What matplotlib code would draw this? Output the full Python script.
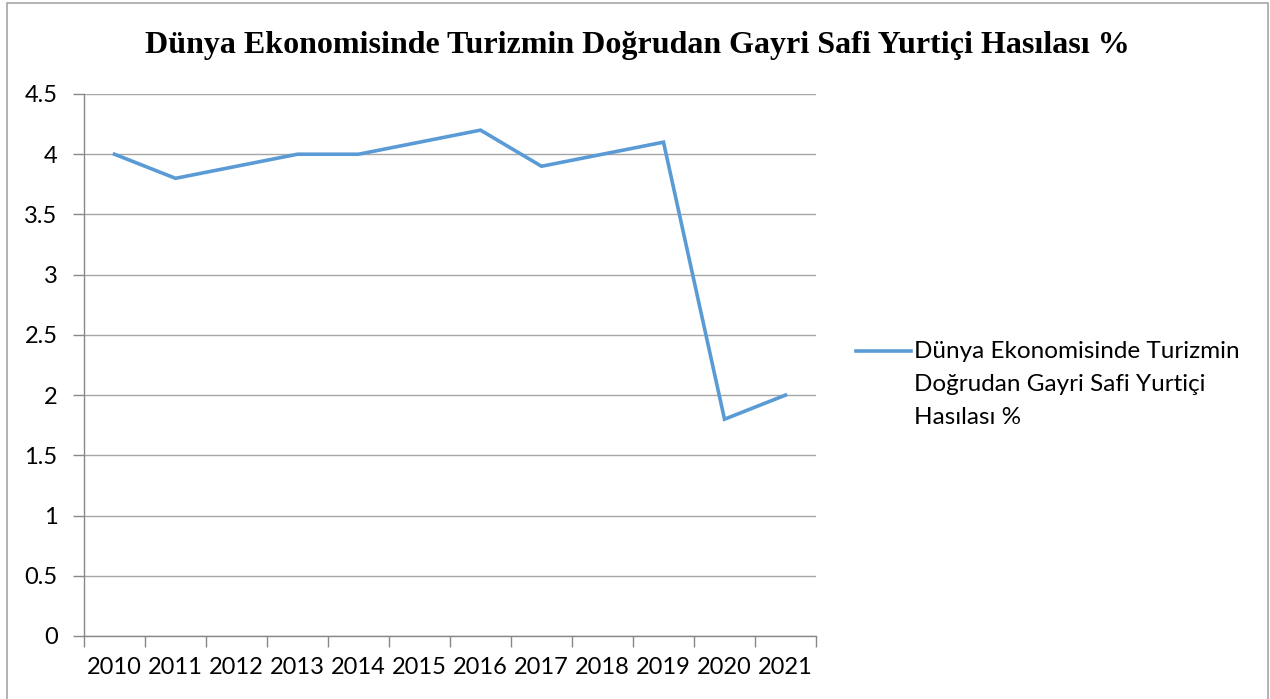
import matplotlib
matplotlib.use("Agg")
import matplotlib.pyplot as plt
from matplotlib.patches import Rectangle
from matplotlib.lines import Line2D

years = ["2010", "2011", "2012", "2013", "2014", "2015", "2016", "2017", "2018", "2019", "2020", "2021"]
values = [4.0, 3.8, 3.9, 4.0, 4.0, 4.1, 4.2, 3.9, 4.0, 4.1, 1.8, 2.0]
y_ticks = [0, 0.5, 1, 1.5, 2, 2.5, 3, 3.5, 4, 4.5]
y_labels = ["0", "0.5", "1", "1.5", "2", "2.5", "3", "3.5", "4", "4.5"]
title = "Dünya Ekonomisinde Turizmin Doğrudan Gayri Safi Yurtiçi Hasılası %"
series_lines = ["Dünya Ekonomisinde Turizmin", "Doğrudan Gayri Safi Yurtiçi", "Hasılası %"]

W, H = 1270, 699
fig = plt.figure(figsize=(W / 100, H / 100), dpi=100)
fig.patch.set_facecolor("white")

# outer chart border
fig.add_artist(Rectangle((7 / W, -0.01), (1268 - 7) / W, (H - 3) / H + 0.01,
                         transform=fig.transFigure, fill=False,
                         edgecolor="#A6A6A6", linewidth=1.2))

left, right, top, bottom = 84, 816, 94, 636
ax = fig.add_axes([left / W, 1 - bottom / H, (right - left) / W, (bottom - top) / H])

n = len(years)
x = [i + 0.5 for i in range(n)]
color = "#5B9BD5"
line, = ax.plot(x, values, color=color, linewidth=2.6, solid_joinstyle="miter")

ax.set_xlim(0, n)
ax.set_ylim(0, 4.5)
ax.set_yticks(y_ticks)
ax.set_yticklabels(y_labels)
ax.set_xticks(range(n + 1))
ax.set_xticklabels([])
ax.set_xticks(x, minor=True)
ax.set_xticklabels(years, minor=True)
ax.tick_params(axis="x", which="minor", length=0, pad=15)
ax.tick_params(axis="x", which="major", length=8, color="#888888", width=1, direction="out")
ax.tick_params(axis="y", length=8, color="#888888", width=1, direction="out", pad=11)

font = "Lato"
fs = 17
for lab in ax.get_xticklabels(minor=True) + ax.get_yticklabels():
    lab.set_fontfamily(font)
    lab.set_fontsize(fs)
    lab.set_color("black")

ax.grid(axis="y", color="#A6A6A6", linewidth=1)
ax.set_axisbelow(True)
for s in ["top", "right"]:
    ax.spines[s].set_visible(False)
for s in ["left", "bottom"]:
    ax.spines[s].set_color("#888888")
    ax.spines[s].set_linewidth(1)

fig.text(637 / W, 1 - 46 / H, title, ha="center", va="center",
         fontfamily="Liberation Serif", fontweight="bold", fontsize=23)

# legend (handle aligned with the first line of the label, like the reference)
ly = 1 - 351 / H
fig.add_artist(Line2D([856 / W, 911 / W], [ly, ly], transform=fig.transFigure,
                      color=color, linewidth=2.6))
for i, t in enumerate(series_lines):
    fig.text(914 / W, 1 - (352 + 33 * i) / H, t, ha="left", va="center",
             fontfamily=font, fontsize=17.5, color="black")

fig.savefig("out.png", dpi=100)
